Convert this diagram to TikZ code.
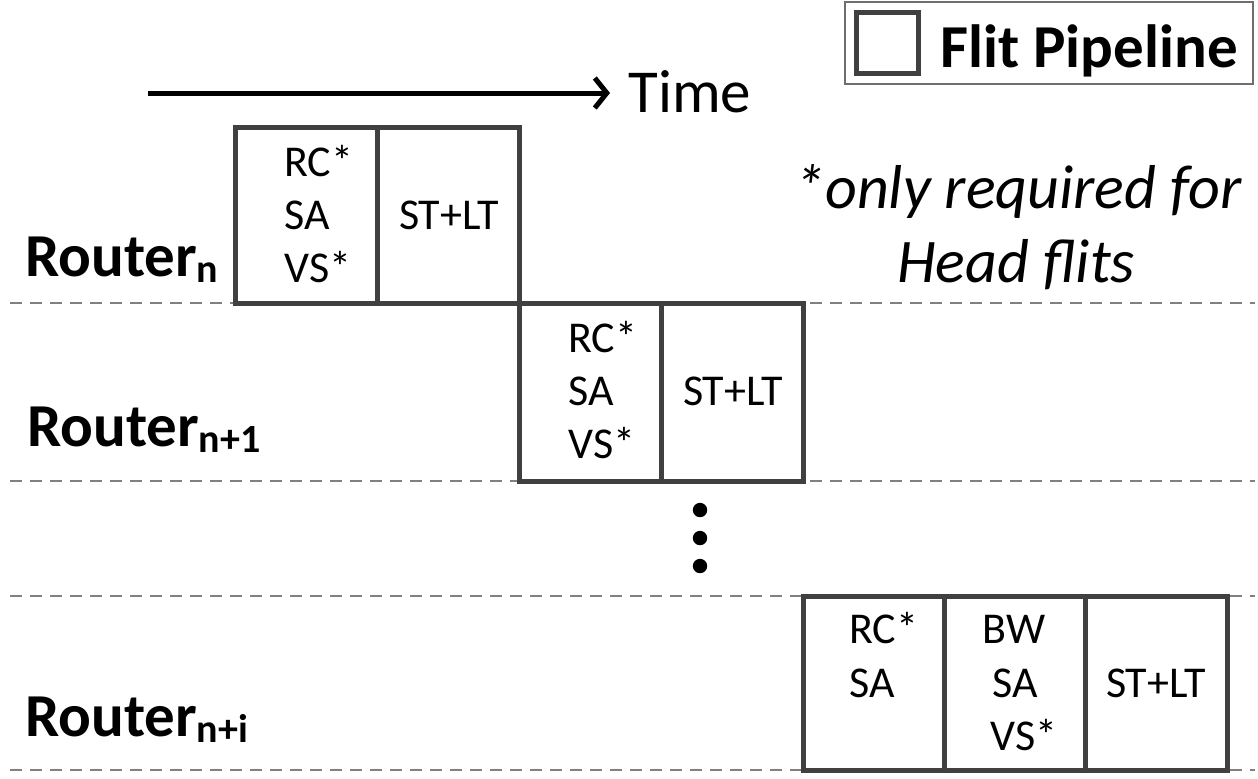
\documentclass[tikz,border=0pt]{standalone}
\usepackage{fontspec}
\setmainfont{Carlito}
\usetikzlibrary{arrows.meta}
\definecolor{boxgray}{HTML}{404040}
\definecolor{dashgray}{HTML}{808080}
\definecolor{legendgray}{HTML}{6E6E6E}
\newcommand{\bigfont}{\fontsize{30.5}{36}\selectfont}
\newcommand{\stagefont}{\fontsize{22}{26}\selectfont}
\newcommand{\routerlbl}[1]{\textbf{Router\raisebox{-3pt}{\fontsize{20}{24}\selectfont #1}}}
\begin{document}
\begin{tikzpicture}[x=0.5pt, y=-0.5pt,
  stage/.style={draw=boxgray, line width=2.5pt, fill=white},
  divider/.style={draw=dashgray, line width=1pt, dash pattern=on 6pt off 4pt},
  stagetxt/.style={font=\stagefont, inner sep=0pt, anchor=base west},
  routertxt/.style={font=\bigfont, inner sep=0pt, anchor=base west}]
  \useasboundingbox (0,0) rectangle (1258,778);

  % Row dividers
  \foreach \y in {303,481,596,770}
    \draw[divider] (10,\y) -- (1255,\y);

  % Legend
  \draw[legendgray, line width=1pt] (845,2) rectangle (1253,84);
  \draw[boxgray, line width=2.5pt] (856,12) rectangle (918,73);
  \node[font=\bigfont\bfseries, inner sep=0pt, anchor=base west] (legend) at (940,67) {Flit Pipeline};

  % Time axis
  \coordinate (tstart) at (148,93);
  \coordinate (tend) at (610,93);
  \draw[line width=2.5pt, -{Straight Barb[length=6pt,width=15pt]}] (tstart) -- (tend);
  \node[routertxt] (time) at (628,112) {Time};

  % Router n
  \draw[stage] (235,127) rectangle (519,303);
  \draw[stage] (377,127) -- (377,303);
  \foreach \t [count=\i from 0] in {RC*,SA,VS*}
    \node[stagetxt] (rna\i) at (284,{176+53*\i}) {\t};
  \node[stagetxt, anchor=base] (rnb) at (449,229) {ST+LT};
  \node[routertxt] (rn) at (25,276) {\routerlbl{n}};

  % Router n+1
  \draw[stage] (519,303) rectangle (803,481);
  \draw[stage] (661,303) -- (661,481);
  \foreach \t [count=\i from 0] in {RC*,SA,VS*}
    \node[stagetxt] (rma\i) at (568,{352+53*\i}) {\t};
  \node[stagetxt, anchor=base] (rmb) at (733,405) {ST+LT};
  \node[routertxt] (rm) at (27,446) {\routerlbl{n+1}};

  % Ellipsis
  \foreach \y [count=\i] in {510,538,566}
    \fill (700,\y) circle[radius=3.6pt];

  % Router n+i
  \draw[stage] (803,596) rectangle (1227,770);
  \draw[stage] (944,596) -- (944,770);
  \draw[stage] (1085,596) -- (1085,770);
  \node[stagetxt] (ria0) at (849,643) {RC*};
  \node[stagetxt] (ria1) at (849,697) {SA};
  \node[stagetxt, anchor=base] (rib0) at (1014,643) {BW};
  \node[stagetxt, anchor=base] (rib1) at (1015,697) {SA};
  \node[stagetxt, anchor=base] (rib2) at (1024,750) {VS*};
  \node[stagetxt, anchor=base] (ric) at (1156,697) {ST+LT};
  \node[routertxt] (ri) at (25,736) {\routerlbl{n+i}};

  % Note
  \node[font=\fontsize{31}{36}\selectfont\itshape, inner sep=0pt, anchor=base] (note1) at (1018,208) {*only required for};
  \node[font=\fontsize{31}{36}\selectfont\itshape, inner sep=0pt, anchor=base] (note2) at (1016,282) {Head flits};
\end{tikzpicture}
\end{document}
